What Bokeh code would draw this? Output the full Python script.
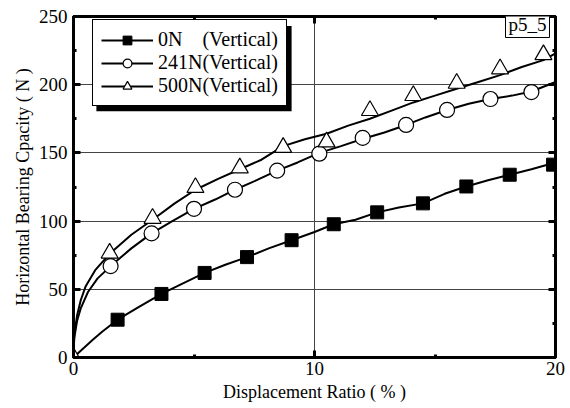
from bokeh.plotting import figure
from bokeh.models import (FixedTicker, LinearAxis, Legend, LegendItem, Label,
                          BoxAnnotation, Range1d)
from bokeh.embed import file_html
from bokeh.resources import INLINE

NaN = float("nan")

# ---- data ----
# 0N (Vertical)
x0_line = [0, 0.3, 0.8, 1.2, 1.83, 2.7, 3.65, 4.5, 5.44, 6.3, 7.2, 8.1, 9.05, 10.0,
           10.8, 11.7, 12.6, 13.5, 14.5, 15.4, 16.3, 17.2, 18.1, 19.0, 20.0]
y0_line = [0, 5, 13, 19, 27.7, 37, 46.6, 54, 62, 68, 73.6, 80, 86, 92,
           97.7, 101, 106.4, 110, 113, 120, 125.4, 130, 134, 138, 143]
x0_mk = [1.83, 3.65, 5.44, 7.2, 9.05, 10.8, 12.6, 14.5, 16.3, 18.1, 19.9]
y0_mk = [27.7, 46.6, 62, 73.6, 86, 97.7, 106.4, 113, 125.4, 134, 141.4]

# 241N (Vertical)
x1_line = [0, 0.03, 0.15, 0.3, 0.6, 1.0, 1.54, 2.4, 3.24, 4.1, 5.0, 5.9, 6.7, 7.6,
           8.45, 9.3, 10.2, 11.1, 11.95, 12.9, 13.8, 14.6, 15.5, 16.4, 17.3, 18.2,
           19.0, 20.0]
y1_line = [0, 14, 27, 36, 48, 58, 67, 80, 91, 100, 109, 116, 123, 130,
           137, 143, 150, 155, 160, 165, 170.5, 176, 181.5, 186, 189.5, 192,
           195, 202]
x1_mk = [1.54, 3.24, 5.0, 6.7, 8.45, 10.2, 12.0, 13.8, 15.5, 17.3, 19.0]
y1_mk = [67, 91, 109, 123, 137, 149.4, 161, 170.5, 181.5, 189.5, 194.6]

# 500N (Vertical)
x2_line = [0, 0.03, 0.15, 0.3, 0.5, 0.9, 1.5, 2.4, 3.28, 4.2, 5.06, 6.0, 6.9, 7.8,
           8.7, 9.6, 10.5, 11.4, 12.3, 13.2, 14.1, 15.0, 15.9, 16.8, 17.7, 18.6,
           19.5, 20.0]
y2_line = [0, 16, 31, 42, 52, 64, 76, 90, 101, 113, 123, 131, 138, 145,
           155, 160, 164, 170, 175, 181, 187, 192, 197, 202, 207, 213,
           218, 223]
x2_mk = [0, 1.5, 3.28, 5.06, 6.9, 8.7, 10.5, 12.3, 14.1, 15.9, 17.7, 19.5]
y2_mk = [0, 76.5, 102, 124.6, 139, 154, 158, 181, 192, 201, 211.6, 222]

labels = ["0N    (Vertical)", "241N(Vertical)", "500N(Vertical)"]
x_ticks = [0, 10, 20]
x_minor = [5, 15]
y_ticks = [0, 50, 100, 150, 200, 250]
y_minor = [25, 75, 125, 175, 225]

FONT = "Liberation Serif"

p = figure(width=570, height=408, output_backend="svg", toolbar_location=None,
           x_range=Range1d(0, 20), y_range=Range1d(0, 250),
           min_border_left=73, min_border_right=15, min_border_top=16,
           min_border_bottom=51, background_fill_color="white",
           border_fill_color="white")

p.outline_line_color = "black"
p.outline_line_width = 3
p.outline_line_alpha = 1.0

# grids
p.xgrid.ticker = FixedTicker(ticks=[10])
p.ygrid.ticker = FixedTicker(ticks=[50, 100, 150, 200])
p.xgrid.grid_line_color = "#444444"
p.ygrid.grid_line_color = "#444444"
p.xgrid.grid_line_width = 1
p.ygrid.grid_line_width = 1


def style_axis(ax):
    ax.axis_line_width = 3
    ax.axis_line_color = "black"
    ax.major_tick_in = 7
    ax.major_tick_out = 0
    ax.minor_tick_in = 3
    ax.minor_tick_out = 0
    ax.major_tick_line_width = 3
    ax.minor_tick_line_width = 3
    ax.major_label_text_font = FONT
    ax.major_label_text_color = "black"
    ax.axis_label_text_font = FONT
    ax.axis_label_text_font_style = "normal"
    ax.axis_label_text_color = "black"
    ax.axis_label_text_font_size = "18px"
    ax.major_label_text_font_size = "19px"


p.xaxis.ticker = FixedTicker(ticks=x_ticks, minor_ticks=x_minor)
p.yaxis.ticker = FixedTicker(ticks=y_ticks, minor_ticks=y_minor)
style_axis(p.xaxis[0])
style_axis(p.yaxis[0])
p.xaxis.axis_label = "Displacement Ratio ( % )"
p.yaxis.axis_label = "Horizontal Bearing Cpacity ( N )"
p.xaxis.major_label_standoff = 4
p.yaxis.major_label_standoff = 6
p.xaxis.axis_label_standoff = 4
p.yaxis.axis_label_standoff = 3

# mirrored tick marks on the right and top (no labels)
ax_r = LinearAxis(ticker=FixedTicker(ticks=y_ticks, minor_ticks=y_minor))
style_axis(ax_r)
ax_r.major_label_overrides = {t: "" for t in y_ticks}
ax_r.major_label_standoff = 0
p.add_layout(ax_r, "right")
ax_t = LinearAxis(ticker=FixedTicker(ticks=x_ticks, minor_ticks=x_minor))
style_axis(ax_t)
ax_t.major_label_overrides = {t: "" for t in x_ticks}
ax_t.major_label_standoff = 0
p.add_layout(ax_t, "above")

# curves
l0 = p.line(x0_line, y0_line, line_color="black", line_width=2)
l1 = p.line(x1_line, y1_line, line_color="black", line_width=2)
l2 = p.line(x2_line, y2_line, line_color="black", line_width=2)

p.scatter(x0_mk, y0_mk, marker="square", size=13, fill_color="black",
          line_color="black")
p.scatter(x1_mk, y1_mk, marker="circle", size=15, fill_color="white",
          line_color="black", line_width=1.2)
p.scatter(x2_mk, y2_mk, marker="triangle", size=17, fill_color="white",
          line_color="black", line_width=1.2)

# legend-only marker renderers (smaller markers in the key, never on the plot)
k0 = p.scatter([NaN], [NaN], marker="square", size=9, fill_color="black",
               line_color="black")
k1 = p.scatter([NaN], [NaN], marker="circle", size=9, fill_color="white",
               line_color="black", line_width=1.2)
k2 = p.scatter([NaN], [NaN], marker="triangle", size=11, fill_color="white",
               line_color="black", line_width=1.2)

# legend drop shadow (offset ~4 px right / down from the legend box)
shadow = BoxAnnotation(left=0.95, right=9.05, bottom=180.5, top=243.0,
                       fill_color="black", fill_alpha=1.0, line_alpha=0,
                       level="annotation")
p.add_layout(shadow)

legend = Legend(items=[LegendItem(label=labels[0], renderers=[l0, k0]),
                       LegendItem(label=labels[1], renderers=[l1, k1]),
                       LegendItem(label=labels[2], renderers=[l2, k2])],
                location=(19, 251))
legend.label_text_font = FONT
legend.label_text_font_size = "20px"
legend.label_text_color = "black"
legend.label_height = 22
legend.glyph_height = 22
legend.glyph_width = 52
legend.label_standoff = 5
legend.padding = 8
legend.spacing = 0
legend.margin = 0
legend.border_line_color = "black"
legend.border_line_width = 1
legend.border_line_alpha = 1.0
legend.background_fill_color = "white"
legend.background_fill_alpha = 1.0
p.add_layout(legend)

tag = Label(x=20, y=250, text="p5_5", x_offset=-6, y_offset=6,
            text_align="right", text_baseline="top",
            text_font=FONT, text_font_size="19px", text_color="black",
            border_line_color="black", border_line_width=1,
            background_fill_color="white", padding=3)
p.add_layout(tag)

open("out.html", "w").write(file_html(p, INLINE))
